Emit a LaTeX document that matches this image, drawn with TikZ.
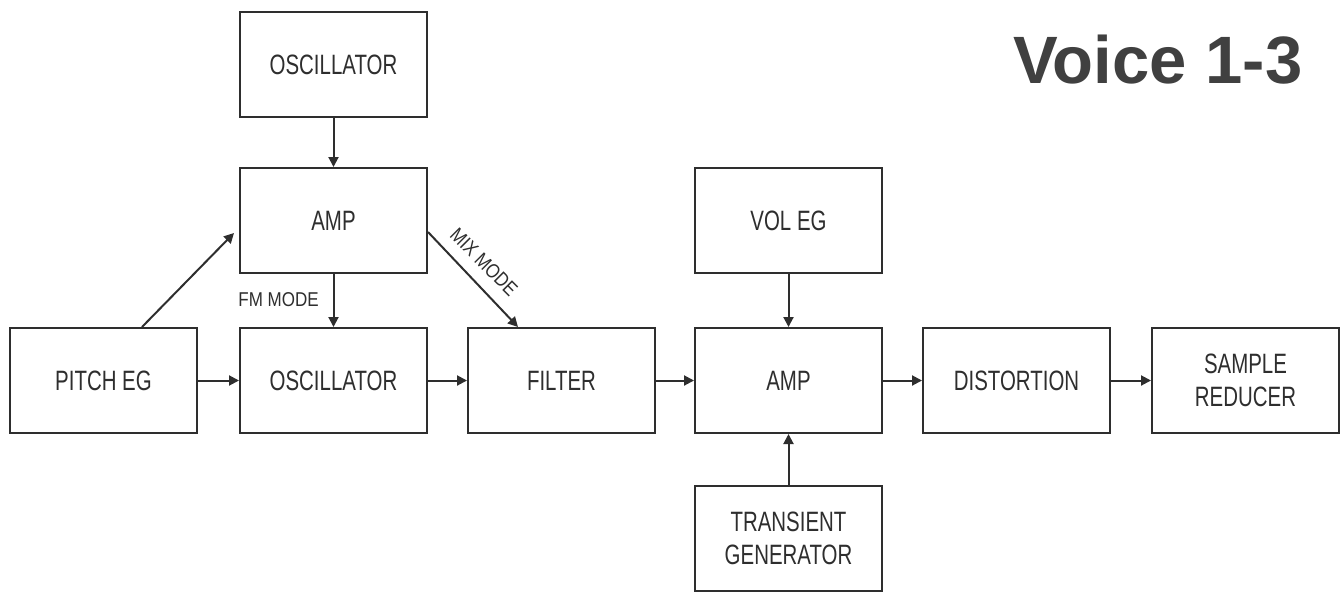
\documentclass[tikz,border=0pt]{standalone}
\usepackage{fontspec}
\setmainfont{Liberation Sans}
\newfontfamily\boxfont[FakeStretch=0.73]{Liberation Sans}
\newfontfamily\lblfont[FakeStretch=0.85]{Liberation Sans}
\usetikzlibrary{arrows.meta,calc}
\definecolor{ink}{HTML}{2E2E2E}
\definecolor{titleink}{HTML}{404040}
\begin{document}
\begin{tikzpicture}[x=1pt,y=-1pt,
  block/.style={draw=ink, line width=2pt, minimum width=187pt, minimum height=105pt,
    inner sep=0pt, align=center, text=ink,
    font=\boxfont\fontsize{28}{33}\selectfont},
  conn/.style={draw=ink, line width=2pt, -{Triangle[length=10pt,width=10pt]}},
  lbl/.style={inner sep=0pt, text=ink, font=\lblfont\fontsize{20}{24}\selectfont}]
\useasboundingbox (0,0) rectangle (1343,592);

\node[block] (osc1)   at (333.5,64.5)   {OSCILLATOR};
\node[block] (amp1)   at (333.5,220.5)  {AMP};
\node[block] (pitch)  at (103.5,380.5)  {PITCH EG};
\node[block] (osc2)   at (333.5,380.5)  {OSCILLATOR};
\node[block] (filter) at (561.5,380.5)  {FILTER};
\node[block] (amp2)   at (788.5,380.5)  {AMP};
\node[block] (voleg)  at (788.5,220.5)  {VOL EG};
\node[block] (trans)  at (788.5,538.5)  {TRANSIENT\\GENERATOR};
\node[block] (dist)   at (1016.5,380.5) {DISTORTION};
\node[block] (samp)   at (1245.5,380.5) {SAMPLE\\REDUCER};

\node[anchor=base west, inner sep=0pt, text=titleink,
  font=\bfseries\fontsize{67}{70}\selectfont] (title) at (1013,83) {Voice 1-3};

\draw[conn] (osc1) -- (amp1);
\draw[conn] (amp1) -- (osc2);
\draw[conn] (pitch) -- (osc2);
\draw[conn] (osc2) -- (filter);
\draw[conn] (filter) -- (amp2);
\draw[conn] (voleg) -- (amp2);
\draw[conn] (trans) -- (amp2);
\draw[conn] (amp2) -- (dist);
\draw[conn] (dist) -- (samp);

\coordinate (pe) at ($(pitch.north)+(38.5,0)$);
\coordinate (ae) at ($(amp1.west)+(-5,12.5)$);
\draw[conn] (pe) -- (ae);

\coordinate (ms) at ($(amp1.east)+(0,11.5)$);
\coordinate (me) at ($(filter.north west)+(51,0)$);
\draw[conn] (ms) -- (me);

\node[lbl] (fm) at (278.5,299.5) {FM MODE};
\node[lbl, rotate=-45] (mix) at (484,262) {MIX MODE};
\end{tikzpicture}
\end{document}
